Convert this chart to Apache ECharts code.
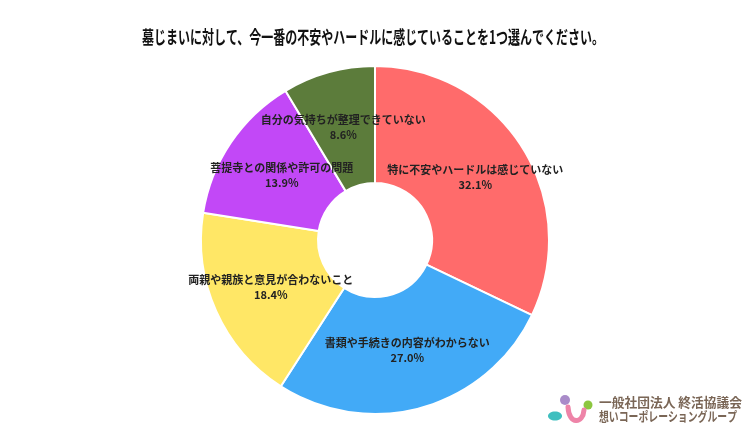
<!DOCTYPE html>
<html><head><meta charset="utf-8">
<script src="https://cdn.jsdelivr.net/npm/echarts@6/dist/echarts.min.js"></script>
<style>html,body{margin:0;padding:0;background:#fff}#c{width:750px;height:430px}</style>
</head><body><div id="c"></div>
<script>
const titleText = '墓じまいに対して、今一番の不安やハードルに感じていることを1つ選んでください。';
const categories = ['特に不安やハードルは感じていない','書類や手続きの内容がわからない','両親や親族と意見が合わないこと','菩提寺との関係や許可の問題','自分の気持ちが整理できていない'];
const values = [32.1, 27.0, 18.4, 13.9, 8.6];
const colors = ['#FF6B6B','#42AAF7','#FFE766','#C248F7','#5C7C3B'];
const orgLine1 = '一般社団法人 終活協議会';
const orgLine2 = '想いコーポレーショングループ';

const font = '"Noto Sans CJK JP", "Noto Sans", sans-serif';
const ctx = document.createElement('canvas').getContext('2d');
function measure(text, f) { ctx.font = f; return ctx.measureText(text).width; }
const titleFont = 'bold 18px ' + font;
const titleScale = 462 / measure(titleText, titleFont);
const logoFont = 'bold 13px ' + font;
const logoScale1 = 143 / measure(orgLine1, logoFont);
const logoScale2 = 138 / measure(orgLine2, logoFont);
const labelOffsets = [[0, 0], [0, -4], [4, -1], [5, 2], [0, 2]];

const chart = echarts.init(document.getElementById('c'));
chart.setOption({
  backgroundColor: '#fff',
  animation: false,
  series: [{
    type: 'pie',
    center: [375, 240],
    radius: [57, 174],
    startAngle: 90,
    clockwise: true,
    itemStyle: {borderColor: '#fff', borderWidth: 2},
    label: {
      position: 'inside',
      formatter: p => p.name + '\n' + p.value.toFixed(1) + '%',
      fontFamily: font, fontSize: 11, fontWeight: 'bold', color: '#222', lineHeight: 15, align: 'center'
    },
    labelLine: {show: false},
    data: categories.map((c, i) => ({
      name: c, value: values[i], itemStyle: {color: colors[i]},
      label: {offset: labelOffsets[i]}
    }))
  }],
  graphic: [
    {type: 'text', x: 373, y: 37, scaleX: titleScale,
      style: {text: titleText, font: titleFont, fill: '#111', align: 'center', verticalAlign: 'middle'}},
    {type: 'circle', shape: {cx: 565, cy: 400, r: 5}, style: {fill: '#A98BC9'}},
    {type: 'circle', shape: {cx: 588, cy: 405, r: 4.5}, style: {fill: '#8CC63F'}},
    {type: 'ellipse', shape: {cx: 555, cy: 416, rx: 7, ry: 4.5}, style: {fill: '#3FBFBF'}},
    {type: 'bezierCurve', shape: {x1: 568, y1: 407, cpx1: 569, cpy1: 425, cpx2: 583, cpy2: 424, x2: 584, y2: 410},
      style: {stroke: '#EE84A8', lineWidth: 5, fill: null, lineCap: 'round'}},
    {type: 'text', x: 599, y: 402.5, scaleX: logoScale1,
      style: {text: orgLine1, font: logoFont, fill: '#7A6656', align: 'left', verticalAlign: 'middle'}},
    {type: 'text', x: 599, y: 416, scaleX: logoScale2,
      style: {text: orgLine2, font: logoFont, fill: '#7A6656', align: 'left', verticalAlign: 'middle'}}
  ]
});
</script></body></html>
